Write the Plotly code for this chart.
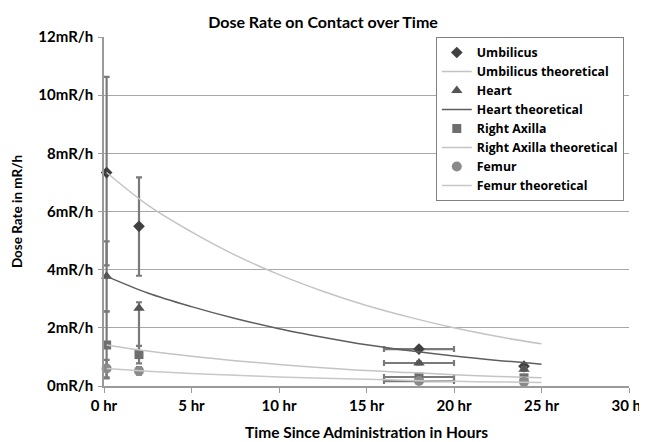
import plotly.graph_objects as go

# measured data
t_meas = [0.15, 2.0, 18.0, 24.0]
x_err = [0, 0, 2.0, 0]

umb = [7.34, 5.49, 1.27, 0.68]
umb_err_p = [3.29, 1.68, 0.08, 0.05]
umb_err_m = [3.19, 1.70, 0.08, 0.05]

heart = [3.77, 2.67, 0.79, 0.58]
heart_err_p = [1.2, 0.21, 0.05, 0.05]
heart_err_m = [1.2, 1.6, 0.05, 0.05]

axilla = [1.41, 1.08, 0.31, 0.28]
axilla_err = [1.15, 0.3, 0.05, 0.05]

femur = [0.60, 0.52, 0.17, 0.14]
femur_err = [0.3, 0.13, 0.05, 0.05]

# theoretical curves
t_theo = [0.15, 2.5, 5, 7.5, 10, 12.5, 15, 17.5, 20, 22.5, 25]
umb_theo = [7.34, 6.22, 5.30, 4.50, 3.83, 3.26, 2.77, 2.36, 2.00, 1.70, 1.45]
heart_theo = [3.77, 3.20, 2.73, 2.32, 1.97, 1.68, 1.42, 1.21, 1.03, 0.88, 0.75]
axilla_theo = [1.41, 1.20, 1.02, 0.87, 0.74, 0.63, 0.53, 0.46, 0.39, 0.33, 0.28]
femur_theo = [0.60, 0.51, 0.43, 0.37, 0.31, 0.27, 0.23, 0.19, 0.16, 0.14, 0.12]

x_ticks = [0, 5, 10, 15, 20, 25, 30]
x_labels = ["0 hr", "5 hr", "10 hr", "15 hr", "20 hr", "25 hr", "30 hr"]
y_ticks = [0, 2, 4, 6, 8, 10, 12]
y_labels = ["0mR/h", "2mR/h", "4mR/h", "6mR/h", "8mR/h", "10mR/h", "12mR/h"]

FONT = "Lato"
ERRC = "#7a7a7a"

fig = go.Figure()


def meas(name, y, ep, em, symbol, color, size):
    fig.add_trace(go.Scatter(
        x=t_meas, y=y, mode="markers", name=name, cliponaxis=False,
        marker=dict(symbol=symbol, color=color, size=size),
        error_y=dict(type="data", array=ep, arrayminus=em, symmetric=False,
                     color=ERRC, thickness=2.2, width=3),
        error_x=dict(type="data", array=x_err, color=ERRC, thickness=2.2, width=3),
    ))


def theo(name, y, color, w):
    fig.add_trace(go.Scatter(
        x=t_theo, y=y, mode="lines", name=name,
        line=dict(color=color, width=w, shape="spline"),
    ))


meas("Umbilicus", umb, umb_err_p, umb_err_m, "diamond", "#404040", 9)
theo("Umbilicus theoretical", umb_theo, "#c4c4c4", 1.5)
meas("Heart", heart, heart_err_p, heart_err_m, "triangle-up", "#555555", 10)
theo("Heart theoretical", heart_theo, "#5e5e5e", 1.5)
meas("Right Axilla", axilla, axilla_err, axilla_err, "square", "#6e6e6e", 9)
theo("Right Axilla theoretical", axilla_theo, "#c4c4c4", 1.5)
meas("Femur", femur, femur_err, femur_err, "circle", "#8a8a8a", 10)
theo("Femur theoretical", femur_theo, "#c8c8c8", 1.5)

BOLD = dict(family=FONT, color="black", weight="bold")

# page has an 8px body margin, so the figure is 8px smaller and margins shifted
W, H = 639, 434

fig.update_layout(
    width=W, height=H,
    margin=dict(l=96, r=18, t=29, b=56, autoexpand=False),
    paper_bgcolor="white", plot_bgcolor="white",
    font=dict(family=FONT, size=13, color="black"),
    title=dict(text="Dose Rate on Contact over Time", x=315 / W, xref="container", xanchor="center",
               y=1 - 14 / H, yref="container", yanchor="middle",
               font=dict(size=16, **BOLD)),
    xaxis=dict(range=[0, 30], tickvals=x_ticks, ticktext=x_labels,
               showgrid=False, zeroline=False, showline=True, linecolor="#9a9a9a", linewidth=1.5,
               ticks="outside", ticklen=5, tickcolor="#9a9a9a",
               ticklabelstandoff=0,
               title=dict(text="Time Since Administration in Hours", standoff=14,
                          font=dict(size=15.5, **BOLD)),
               tickfont=dict(size=15, **BOLD)),
    yaxis=dict(range=[0, 12], tickvals=y_ticks, ticktext=y_labels,
               showgrid=True, gridcolor="#a8a8a8", gridwidth=1.3, zeroline=False,
               showline=True, linecolor="#9a9a9a", linewidth=1.5,
               ticks="outside", ticklen=4, tickcolor="#9a9a9a",
               ticklabelstandoff=2,
               title=dict(text="Dose Rate in mR/h", standoff=13,
                          font=dict(size=13.5, **BOLD)),
               tickfont=dict(size=15, **BOLD)),
    legend=dict(x=0.632, y=1.0, xanchor="left", yanchor="top",
                bordercolor="#808080", borderwidth=1, bgcolor="white",
                font=dict(family="Open Sans", size=12.3, color="black", weight="bold"),
                itemwidth=30, tracegroupgap=0),
    showlegend=True,
)

fig.write_html("out.html")
